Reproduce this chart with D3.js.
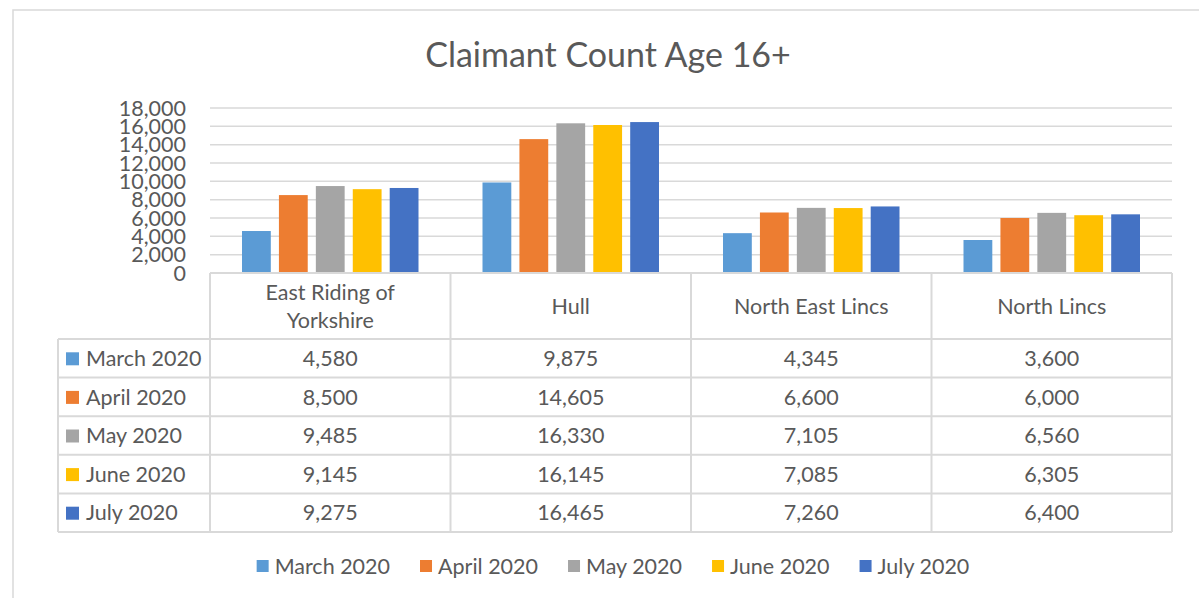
<!DOCTYPE html>
<html>
<head>
<meta charset="utf-8">
<script src="https://cdn.jsdelivr.net/npm/d3@7"></script>
<style>
  body { margin: 0; background: #fff; }
  text { font-family: Lato, "Open Sans", sans-serif; fill: #595959; }
</style>
</head>
<body>
<svg id="chart"></svg>
<script>
const categories = ["East Riding of Yorkshire", "Hull", "North East Lincs", "North Lincs"];
const categoryLines = [["East Riding of", "Yorkshire"], ["Hull"], ["North East Lincs"], ["North Lincs"]];
const seriesNames = ["March 2020", "April 2020", "May 2020", "June 2020", "July 2020"];
const march = [4580, 9875, 4345, 3600];
const april = [8500, 14605, 6600, 6000];
const may = [9485, 16330, 7105, 6560];
const june = [9145, 16145, 7085, 6305];
const july = [9275, 16465, 7260, 6400];
const yTicks = [0, 2000, 4000, 6000, 8000, 10000, 12000, 14000, 16000, 18000];
const colors = ["#5B9BD5", "#ED7D31", "#A5A5A5", "#FFC000", "#4472C4"];

const values = [march, april, may, june, july];
const width = 1199, height = 598;
const fmt = d3.format(",");
const fs = 21.5;

const svg = d3.select("#chart").attr("width", width).attr("height", height);

// outer chart border
svg.append("rect")
    .attr("x", 13).attr("y", 10)
    .attr("width", 1199).attr("height", 600)
    .attr("fill", "none").attr("stroke", "#D9D9D9").attr("stroke-width", 1.5);

svg.append("text")
    .attr("x", 608).attr("y", 67)
    .attr("text-anchor", "middle")
    .attr("font-size", 34)
    .text("Claimant Count Age 16+");

const x = d3.scaleBand().domain(categories).range([210, 1172]);
const xs = d3.scaleBand().domain(seriesNames)
    .range([32, x.bandwidth() - 32]).paddingInner(0.22);
const y = d3.scaleLinear().domain([0, 18000]).range([273, 108]);

// gridlines
svg.append("g").selectAll("line").data(yTicks.filter(d => d > 0)).join("line")
    .attr("x1", 210).attr("x2", 1172)
    .attr("y1", d => y(d)).attr("y2", d => y(d))
    .attr("stroke", "#D9D9D9").attr("stroke-width", 1.5);

// y labels
svg.append("g").selectAll("text").data(yTicks).join("text")
    .attr("x", 186).attr("y", d => y(d))
    .attr("dy", "0.36em")
    .attr("text-anchor", "end")
    .attr("font-size", fs)
    .text(d => fmt(d));

// bars
seriesNames.forEach((s, i) => {
    svg.append("g").selectAll("rect").data(categories).join("rect")
        .attr("x", (c) => x(c) + xs(s))
        .attr("width", xs.bandwidth())
        .attr("y", (c, j) => y(values[i][j]))
        .attr("height", (c, j) => y(0) - y(values[i][j]))
        .attr("fill", colors[i]);
});

// data table
const headerTop = 273, headerBottom = 339, rowH = (532 - 339) / 5;
const tableLeft = 58;
const grid = svg.append("g").attr("stroke", "#D9D9D9").attr("stroke-width", 2);

// horizontal lines
grid.append("line").attr("x1", 210).attr("x2", 1172).attr("y1", headerTop).attr("y2", headerTop);
d3.range(6).forEach(r => {
    const yy = headerBottom + r * rowH;
    grid.append("line").attr("x1", tableLeft).attr("x2", 1172).attr("y1", yy).attr("y2", yy);
});
// vertical lines
grid.append("line").attr("x1", tableLeft).attr("x2", tableLeft)
    .attr("y1", headerBottom).attr("y2", 532);
categories.forEach(c => {
    grid.append("line").attr("x1", x(c)).attr("x2", x(c)).attr("y1", headerTop).attr("y2", 532);
});
grid.append("line").attr("x1", 1172).attr("x2", 1172).attr("y1", headerTop).attr("y2", 532);

// header text
categories.forEach((c, j) => {
    const lines = categoryLines[j];
    const cy = (headerTop + headerBottom) / 2;
    lines.forEach((t, k) => {
        svg.append("text")
            .attr("x", x(c) + x.bandwidth() / 2)
            .attr("y", cy + (k - (lines.length - 1) / 2) * 28)
            .attr("dy", "0.36em")
            .attr("text-anchor", "middle")
            .attr("font-size", fs)
            .text(t);
    });
});

// rows
seriesNames.forEach((s, i) => {
    const cy = headerBottom + i * rowH + rowH / 2;
    svg.append("rect")
        .attr("x", 66).attr("y", cy - 6)
        .attr("width", 13).attr("height", 13)
        .attr("fill", colors[i]);
    svg.append("text")
        .attr("x", 86).attr("y", cy).attr("dy", "0.36em")
        .attr("font-size", fs)
        .text(s);
    categories.forEach((c, j) => {
        svg.append("text")
            .attr("x", x(c) + x.bandwidth() / 2).attr("y", cy).attr("dy", "0.36em")
            .attr("text-anchor", "middle")
            .attr("font-size", fs)
            .text(fmt(values[i][j]));
    });
});

// legend
const legend = svg.append("g");
let lx = 0;
seriesNames.forEach((s, i) => {
    const item = legend.append("g").attr("transform", `translate(${lx},0)`);
    item.append("rect").attr("x", 0).attr("y", -6).attr("width", 12).attr("height", 12)
        .attr("fill", colors[i]);
    const t = item.append("text").attr("x", 18).attr("y", 0).attr("dy", "0.36em")
        .attr("font-size", fs).text(s);
    lx += 18 + t.node().getComputedTextLength() + 30;
});
const legendW = lx - 30;
legend.attr("transform", `translate(${613 - legendW / 2},566)`);
</script>
</body>
</html>
